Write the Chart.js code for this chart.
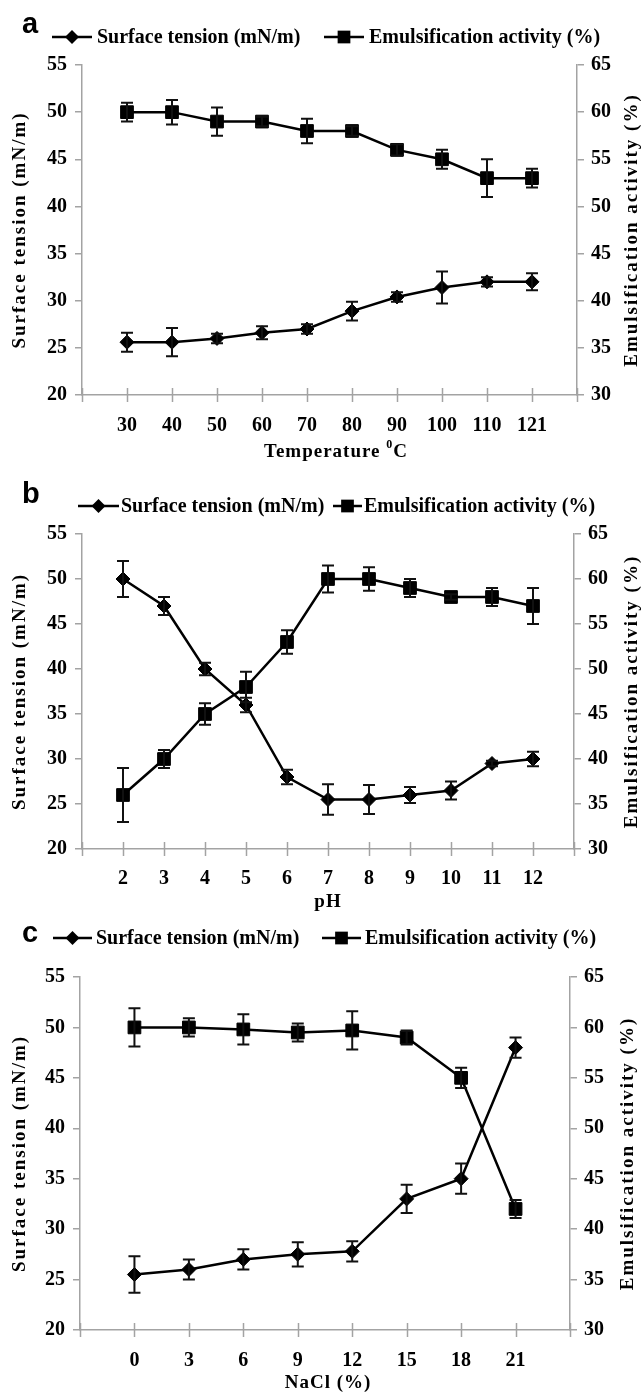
<!DOCTYPE html>
<html>
<head>
<meta charset="utf-8">
<script src="https://cdn.jsdelivr.net/npm/chart.js@4.4.0/dist/chart.umd.min.js"></script>
<style>
body { margin: 0; background: #fff; }
.panel { position: absolute; left: 0; width: 644px; }
canvas { display: block; }
</style>
</head>
<body>
<div class="panel" style="top:0;height:465px"><canvas id="chartA" width="644" height="465"></canvas></div>
<div class="panel" style="top:465px;height:450px"><canvas id="chartB" width="644" height="450"></canvas></div>
<div class="panel" style="top:915px;height:480px"><canvas id="chartC" width="644" height="480"></canvas></div>
<script>
// panel a - temperature
var tempLabels = ['30', '40', '50', '60', '70', '80', '90', '100', '110', '121'];
var tempTension = [25.6, 25.6, 26.0, 26.6, 27.0, 28.9, 30.4, 31.4, 32.0, 32.0];
var tempTensionErr = [1.0, 1.5, 0.5, 0.7, 0.5, 1.0, 0.5, 1.7, 0.5, 0.9];
var tempActivity = [60, 60, 59, 59, 58, 58, 56, 55, 53, 53];
var tempActivityErr = [1.0, 1.3, 1.5, 0.5, 1.3, 0.5, 0.6, 1.0, 2.0, 1.0];

// panel b - pH
var phLabels = ['2', '3', '4', '5', '6', '7', '8', '9', '10', '11', '12'];
var phTension = [50, 47, 40, 36, 28, 25.5, 25.5, 26, 26.5, 29.5, 30];
var phTensionErr = [2.0, 1.0, 0.7, 0.8, 0.8, 1.7, 1.6, 0.9, 1.0, 0.3, 0.8];
var phActivity = [36, 40, 45, 48, 53, 60, 60, 59, 58, 58, 57];
var phActivityErr = [3.0, 1.0, 1.2, 1.7, 1.3, 1.5, 1.3, 1.0, 0.3, 1.0, 2.0];

// panel c - NaCl
var naclLabels = ['0', '3', '6', '9', '12', '15', '18', '21'];
var naclTension = [25.5, 26, 27, 27.5, 27.8, 33, 35, 48];
var naclTensionErr = [1.8, 1.0, 1.0, 1.2, 1.0, 1.4, 1.5, 1.0];
var naclActivity = [60, 60, 59.8, 59.5, 59.7, 59, 55, 42];
var naclActivityErr = [1.9, 0.9, 1.5, 0.9, 1.9, 0.7, 1.0, 0.9];

var tensionTicks = [20, 55, 5];
var activityTicks = [30, 65, 5];

var serif = "'Liberation Serif', 'Times New Roman', serif";
var axisGray = '#a3a3a3';

function drawMarker(ctx, style, x, y, r) {
    ctx.beginPath();
    if (style === 'rectRot') {
        ctx.moveTo(x - r, y);
        ctx.lineTo(x, y - r);
        ctx.lineTo(x + r, y);
        ctx.lineTo(x, y + r);
    } else {
        var s = r * Math.SQRT1_2;
        ctx.rect(x - s, y - s, 2 * s, 2 * s);
    }
    ctx.closePath();
    ctx.fill();
}

var errorBarPlugin = {
    id: 'errorbars',
    afterDatasetsDraw(chart) {
        var ctx = chart.ctx;
        ctx.save();
        ctx.strokeStyle = '#111';
        ctx.lineWidth = 2;
        chart.data.datasets.forEach(function(ds, di) {
            var meta = chart.getDatasetMeta(di);
            var yScale = chart.scales[ds.yAxisID];
            meta.data.forEach(function(pt, i) {
                var err = ds.errors[i];
                if (!err) return;
                var v = ds.data[i].y;
                var top = yScale.getPixelForValue(v + err);
                var bot = yScale.getPixelForValue(v - err);
                ctx.beginPath();
                ctx.moveTo(pt.x, top); ctx.lineTo(pt.x, bot);
                ctx.moveTo(pt.x - 6, top); ctx.lineTo(pt.x + 6, top);
                ctx.moveTo(pt.x - 6, bot); ctx.lineTo(pt.x + 6, bot);
                ctx.stroke();
            });
        });
        ctx.restore();
    }
};

var decorPlugin = {
    id: 'decor',
    afterDraw(chart, args, o) {
        var ctx = chart.ctx;
        var area = chart.chartArea;
        var xs = chart.scales.x;
        ctx.save();

        // x tick marks crossing the axis
        ctx.strokeStyle = axisGray;
        ctx.lineWidth = 1.5;
        for (var i = -1; i <= o.n; i++) {
            var px = Math.round(xs.getPixelForValue(i)) + 0.5;
            ctx.beginPath();
            ctx.moveTo(px, area.bottom - 7);
            ctx.lineTo(px, area.bottom + 7);
            ctx.stroke();
        }

        // panel letter
        ctx.fillStyle = '#000';
        ctx.font = "bold 29px 'Liberation Sans', Arial, sans-serif";
        ctx.textBaseline = 'alphabetic';
        ctx.textAlign = 'left';
        ctx.fillText(o.letter, o.letterX, o.letterY);

        // legend
        ctx.strokeStyle = '#000';
        ctx.lineWidth = 2.5;
        ctx.font = 'bold 20px ' + serif;
        ctx.textBaseline = 'middle';
        o.legend.forEach(function(it) {
            ctx.beginPath();
            ctx.moveTo(it.x1, o.legendY);
            ctx.lineTo(it.x2, o.legendY);
            ctx.stroke();
            drawMarker(ctx, it.style, (it.x1 + it.x2) / 2, o.legendY, it.r);
            ctx.fillText(it.text, it.tx, o.legendY + 1);
        });

        // axis titles
        ctx.font = 'bold 19px ' + serif;
        ctx.letterSpacing = '2px';
        ctx.textAlign = 'center';
        var midY = (area.top + area.bottom) / 2;
        [[o.leftTitleX, 'Surface tension (mN/m)'], [o.rightTitleX, 'Emulsification activity (%)']].forEach(function(t) {
            ctx.save();
            ctx.translate(t[0], midY);
            ctx.rotate(-Math.PI / 2);
            ctx.fillText(t[1], 0, 0);
            ctx.restore();
        });

        // x title, with optional superscript part
        ctx.letterSpacing = '1px';
        ctx.textAlign = 'left';
        var parts = o.xTitle;
        var total = 0;
        parts.forEach(function(p) {
            ctx.font = 'bold ' + (p.sup ? 12 : 19) + 'px ' + serif;
            total += ctx.measureText(p.t).width;
        });
        var cx = o.xTitleX - total / 2;
        parts.forEach(function(p) {
            ctx.font = 'bold ' + (p.sup ? 12 : 19) + 'px ' + serif;
            ctx.fillText(p.t, cx, o.xTitleY + (p.sup ? -7 : 0));
            cx += ctx.measureText(p.t).width;
        });
        ctx.restore();
    }
};

function makeChart(id, labels, tension, tensionErr, activity, activityErr, deco, target, xPad) {
    var n = labels.length;
    var tickFont = { family: serif, size: 20, weight: 'bold' };
    deco.n = n;
    var chart = new Chart(document.getElementById(id), {
        type: 'line',
        data: {
            datasets: [{
                label: 'Surface tension (mN/m)',
                data: tension.map(function(v, i) { return { x: i, y: v }; }),
                errors: tensionErr,
                yAxisID: 'y',
                borderColor: '#000',
                backgroundColor: '#000',
                borderWidth: 2.5,
                pointStyle: 'rectRot',
                pointRadius: 7,
                pointBorderWidth: 1,
                tension: 0
            }, {
                label: 'Emulsification activity (%)',
                data: activity.map(function(v, i) { return { x: i, y: v }; }),
                errors: activityErr,
                yAxisID: 'y1',
                borderColor: '#000',
                backgroundColor: '#000',
                borderWidth: 2.5,
                pointStyle: 'rect',
                pointRadius: 9,
                pointBorderWidth: 1,
                tension: 0
            }]
        },
        options: {
            responsive: false,
            animation: false,
            events: [],
            layout: { padding: { left: 20, right: 30, top: 60, bottom: 60 } },
            plugins: {
                legend: { display: false },
                tooltip: { enabled: false },
                decor: deco
            },
            scales: {
                x: {
                    type: 'linear',
                    min: -1,
                    max: n,
                    grid: { display: false, drawTicks: false },
                    border: { display: true, color: axisGray, width: 1.5 },
                    ticks: {
                        stepSize: 1,
                        autoSkip: false,
                        maxRotation: 0,
                        padding: xPad,
                        color: '#000',
                        font: tickFont,
                        callback: function(v) { return labels[v] !== undefined ? labels[v] : ''; }
                    }
                },
                y: {
                    position: 'left',
                    min: tensionTicks[0],
                    max: tensionTicks[1],
                    grid: { drawOnChartArea: false, tickLength: 7, color: axisGray, lineWidth: 1.5 },
                    border: { color: axisGray, width: 1.5 },
                    ticks: { stepSize: tensionTicks[2], padding: 8, color: '#000', font: tickFont }
                },
                y1: {
                    position: 'right',
                    min: activityTicks[0],
                    max: activityTicks[1],
                    grid: { drawOnChartArea: false, tickLength: 7, color: axisGray, lineWidth: 1.5 },
                    border: { color: axisGray, width: 1.5 },
                    ticks: { stepSize: activityTicks[2], padding: 7, color: '#000', font: tickFont }
                }
            }
        },
        plugins: [errorBarPlugin, decorPlugin]
    });
    // nudge the layout padding so the plot area lands where the figure has it
    for (var k = 0; k < 2; k++) {
        var a = chart.chartArea;
        var p = chart.options.layout.padding;
        p.left += target.left - a.left;
        p.right += a.right - target.right;
        p.top += target.top - a.top;
        p.bottom += a.bottom - target.bottom;
        chart.update();
    }
    return chart;
}

makeChart('chartA', tempLabels, tempTension, tempTensionErr, tempActivity, tempActivityErr, {
    letter: 'a', letterX: 22, letterY: 33,
    legendY: 37,
    legend: [
        { x1: 52, x2: 92, style: 'rectRot', r: 7, text: 'Surface tension (mN/m)', tx: 97 },
        { x1: 324, x2: 364, style: 'rect', r: 9, text: 'Emulsification activity (%)', tx: 369 }
    ],
    leftTitleX: 20, rightTitleX: 632,
    xTitle: [{ t: 'Temperature ' }, { t: '0', sup: true }, { t: 'C' }],
    xTitleX: 336, xTitleY: 452
}, { left: 82, right: 577, top: 65, bottom: 395 }, 19);

makeChart('chartB', phLabels, phTension, phTensionErr, phActivity, phActivityErr, {
    letter: 'b', letterX: 22, letterY: 38,
    legendY: 41,
    legend: [
        { x1: 78, x2: 119, style: 'rectRot', r: 7, text: 'Surface tension (mN/m)', tx: 121 },
        { x1: 333, x2: 362, style: 'rect', r: 9, text: 'Emulsification activity (%)', tx: 364 }
    ],
    leftTitleX: 20, rightTitleX: 632,
    xTitle: [{ t: 'pH' }],
    xTitleX: 328, xTitleY: 437
}, { left: 82, right: 574, top: 69, bottom: 384 }, 18);

makeChart('chartC', naclLabels, naclTension, naclTensionErr, naclActivity, naclActivityErr, {
    letter: 'c', letterX: 22, letterY: 27,
    legendY: 23,
    legend: [
        { x1: 53, x2: 92, style: 'rectRot', r: 7, text: 'Surface tension (mN/m)', tx: 96 },
        { x1: 322, x2: 361, style: 'rect', r: 9, text: 'Emulsification activity (%)', tx: 365 }
    ],
    leftTitleX: 20, rightTitleX: 628,
    xTitle: [{ t: 'NaCl (%)' }],
    xTitleX: 328, xTitleY: 468
}, { left: 80, right: 570, top: 62, bottom: 415 }, 19);
</script>
</body>
</html>
